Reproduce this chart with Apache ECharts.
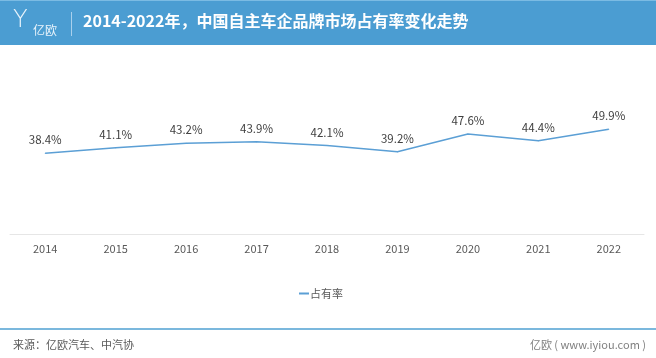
<!DOCTYPE html>
<html><head><meta charset="utf-8">
<script src="https://cdn.jsdelivr.net/npm/echarts@6/dist/echarts.min.js"></script>
<style>html,body{margin:0;padding:0;background:#fff}#c{width:656px;height:358px}</style>
</head><body><div id="c"></div>
<script>
const categories = ['2014','2015','2016','2017','2018','2019','2020','2021','2022'];
const shareValues = [38.4, 41.1, 43.2, 43.9, 42.1, 39.2, 47.6, 44.4, 49.9];
const seriesName = '占有率';
const titleText = '2014-2022年，中国自主车企品牌市场占有率变化走势';
const sourceText = '来源：亿欧汽车、中汽协';
const siteText = '亿欧 ( www.iyiou.com )';

const chart = echarts.init(document.getElementById('c'), null, {renderer:'canvas'});
const font = '"Microsoft YaHei","Noto Sans CJK SC",sans-serif';
chart.setOption({
  animation:false,
  textStyle:{fontFamily:font},
  grid:{left:10, right:12, top:108, bottom:124, containLabel:false},
  xAxis:{type:'category', data:categories, boundaryGap:true,
    axisLine:{lineStyle:{color:'#e6e6e6', width:1}}, axisTick:{show:false},
    axisLabel:{color:'#595959', fontSize:11, margin:9, fontFamily:font}},
  yAxis:{type:'value', min:0, max:60, show:false, splitLine:{show:false}},
  legend:{data:[{name:seriesName, icon:'rect', itemStyle:{color:'#5b9fd5', opacity:1}}],
    top:283, left:294, itemWidth:10, itemHeight:2, itemGap:4,
    textStyle:{color:'#595959', fontSize:11, padding:[0,0,0,-4]}},
  series:[{name:seriesName, type:'line', data:shareValues, symbol:'circle', symbolSize:1, showSymbol:true,
    smooth:false,
    lineStyle:{color:'#5b9fd5', width:1.5}, itemStyle:{color:'#5b9fd5'},
    label:{show:true, position:'top', distance:7, color:'#404040', fontSize:11.5,
      formatter:function(p){return Number(p.value).toFixed(1)+'%';}}}],
  graphic:[
    {type:'rect', shape:{x:0,y:0,width:656,height:45}, style:{fill:'#4b9dd2'}, silent:true},
    {type:'rect', shape:{x:0,y:0,width:656,height:1}, style:{fill:'#7bbbe3'}, silent:true},
    {type:'text', left:13, top:9, style:{text:'Y', fill:'#e8f3fb', font:'200 24px "DejaVu Sans", sans-serif'}},
    {type:'text', left:33, top:24, style:{text:'亿欧', fill:'#e8f3fb', font:'12px '+font}},
    {type:'rect', shape:{x:71,y:12,width:1,height:24}, style:{fill:'#a9d0ec'}},
    {type:'text', left:83, top:13, style:{text:titleText, fill:'#ffffff', font:'bold 16px '+font}},
    {type:'rect', shape:{x:0,y:328,width:656,height:2}, style:{fill:'#7bb8dd'}},
    {type:'text', left:13, top:339, style:{text:sourceText, fill:'#595959', font:'11px '+font}},
    {type:'text', right:10, top:339, style:{text:siteText, fill:'#7f7f7f', font:'11px '+font}}
  ]
});
</script></body></html>
